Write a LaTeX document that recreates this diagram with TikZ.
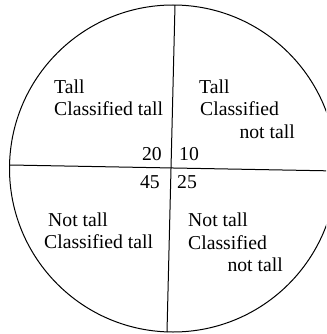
\documentclass[tikz,border=0pt]{standalone}
\usepackage{fontspec}
\setmainfont{Liberation Serif}
\begin{document}
\begin{tikzpicture}[x=1pt,y=-1pt,
    lbl/.style={font=\fontsize{19.7}{22}\selectfont, inner sep=0pt},
    lw/.style={lbl, anchor=base west},
    le/.style={lbl, anchor=base east},
    rule/.style={line width=1pt}]
  \useasboundingbox (0,0) rectangle (326,334);
  \clip (0,0) rectangle (326,334);
  \coordinate (O) at (173,168.5);
  \draw[rule] (O) circle (163.5);
  \coordinate (N) at (175,5); \coordinate (S) at (167,332);
  \coordinate (W) at (10,165); \coordinate (E) at (337,171);
  \draw[rule] (N) -- (S); \draw[rule] (W) -- (E);
  % top left
  \node[lw] (tl1) at (54,93) {Tall};
  \node[lw] (tl2) at (54,115.5) {Classified tall};
  % top right
  \node[lw] (tr1) at (199,93) {Tall};
  \node[lw] (tr2) at (200,115.5) {Classified};
  \node[le] (tr3) at (295,138.5) {not tall};
  % counts
  \node[le] (n20) at (162,160) {20}; \node[lw] (n10) at (179,160) {10};
  \node[le] (n45) at (160,188) {45}; \node[lw] (n25) at (177,188) {25};
  % bottom left
  \node[lw] (bl1) at (48,226) {Not tall};
  \node[lw] (bl2) at (44,248) {Classified tall};
  % bottom right
  \node[lw] (br1) at (188,226) {Not tall};
  \node[lw] (br2) at (188,249) {Classified};
  \node[le] (br3) at (283,271) {not tall};
\end{tikzpicture}
\end{document}
